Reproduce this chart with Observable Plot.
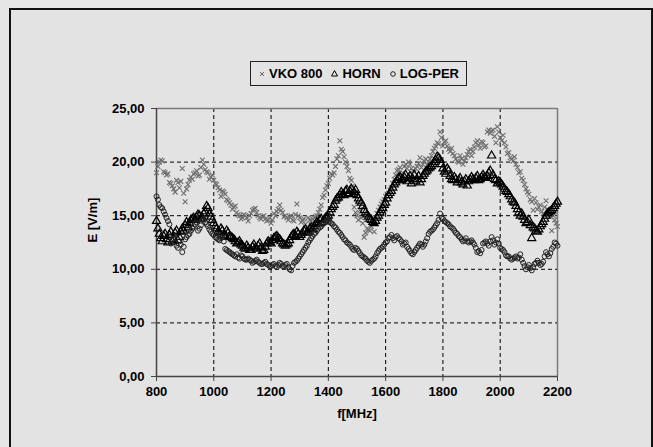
<!DOCTYPE html>
<html>
<head>
<meta charset="utf-8">
<script src="https://cdn.jsdelivr.net/npm/d3@7"></script>
<script src="https://cdn.jsdelivr.net/npm/@observablehq/plot@0.6"></script>
<style>
  html, body { margin: 0; padding: 0; background: #e6e6e6; }
  #wrap { position: relative; width: 653px; height: 447px; overflow: hidden; font-family: "Liberation Sans", Arial, sans-serif; }
  #frame { position: absolute; left: 9px; top: 8px; width: 640px; height: 460px; border: 2px solid #111; background: #e3e3e3; }
  #legend { position: absolute; left: 250px; top: 61px; width: 215px; height: 23px; border: 1px solid #222; background: #e3e3e3;
    font-size: 13px; font-weight: bold; color: #000; display: flex; align-items: center; justify-content: center; white-space: nowrap; }
  #legend span.item { display: inline-flex; align-items: center; margin: 0 4px; }
  #legend svg { margin-right: 3px; }
  #chart { position: absolute; left: 0; top: 0; }
</style>
</head>
<body>
<div id="wrap">
  <div id="frame"></div>
  <div id="chart"></div>
  <div id="legend"></div>
</div>
<script>
// Frequencies (MHz): readings at 800,810,...,2200 and at 805,815,...,2195
const freqsA = d3.range(800, 2201, 10);
const freqsB = d3.range(805, 2200, 10);

const seriesNames = ["VKO 800", "HORN", "LOG-PER"];

const vko800A = [
19.0,20.0,20.1,19.0,18.9,18.0,17.5,18.3,17.6,19.4,
16.3,17.9,18.6,18.9,19.2,18.8,20.2,19.3,19.0,18.6,
18.3,17.9,17.4,17.3,17.0,16.4,16.0,15.8,15.3,15.0,
14.8,15.0,14.5,15.2,15.6,15.3,14.8,14.9,14.7,14.6,
14.3,15.2,15.4,16.0,15.3,15.0,14.6,15.0,14.5,16.1,
14.8,14.6,14.2,14.8,14.5,14.8,15.0,15.6,16.7,17.4,
18.0,18.9,19.0,20.3,22.0,21.0,20.0,19.2,18.3,15.8,
15.0,15.5,14.3,13.4,13.7,14.0,13.5,15.2,15.8,16.3,
16.8,17.1,17.6,18.4,19.2,19.5,19.0,19.8,20.0,19.4,
19.1,19.6,20.4,19.8,20.3,20.0,20.6,21.3,21.8,22.8,
21.5,22.0,21.2,21.3,20.6,20.1,20.6,19.8,20.4,21.0,
20.6,21.4,22.0,21.3,21.8,21.5,23.0,22.9,22.4,23.3,
22.3,22.5,21.4,20.9,20.3,20.5,19.5,19.1,18.3,17.5,
17.0,16.3,16.6,15.6,16.0,15.2,16.4,15.3,13.6,14.6,
14.0];
const vko800B = [
19.6,20.2,19.1,18.8,18.1,17.8,17.2,18.1,18.2,17.1,
17.5,18.3,18.4,19.0,18.7,19.5,19.8,19.1,18.4,18.8,
18.0,17.6,16.8,17.2,16.5,16.2,15.6,15.9,15.1,14.7,
15.1,14.8,15.0,15.5,15.7,15.0,14.7,15.0,14.5,14.8,
14.6,15.0,15.6,15.5,14.9,14.8,14.9,14.6,15.1,15.0,
14.4,14.7,13.7,14.6,14.7,14.9,15.3,16.0,16.9,17.8,
18.5,18.8,19.6,20.6,21.2,20.5,19.6,18.5,17.8,15.3,
14.6,14.8,13.0,13.8,13.6,14.4,14.8,15.5,16.1,16.5,
17.0,17.4,18.0,18.8,19.3,18.9,19.6,19.4,19.8,19.2,
19.4,19.9,19.5,20.1,19.7,20.3,21.0,21.5,21.7,22.3,
21.9,21.5,21.0,20.8,20.3,20.0,20.3,20.1,20.7,21.2,
21.0,21.8,21.6,21.9,21.4,22.8,22.7,23.0,21.8,22.8,
22.0,21.8,20.8,20.4,20.1,19.8,19.0,18.5,17.9,17.2,
16.5,15.5,16.2,15.8,15.4,15.8,15.6,14.9,15.0,14.3];

const hornA = [
14.5,13.3,12.6,13.3,12.5,13.5,12.8,13.6,13.0,13.8,
14.1,13.9,14.6,14.8,14.9,15.0,14.8,15.4,15.7,14.9,
14.3,13.8,13.4,13.6,13.0,13.4,13.0,12.8,12.4,12.6,
12.2,11.9,12.0,11.8,12.3,11.9,12.4,11.7,12.1,12.6,
12.4,12.9,13.1,12.8,12.4,12.2,12.4,13.0,13.3,13.5,
13.0,13.4,13.7,13.5,13.9,14.0,14.4,14.6,14.4,14.8,
15.0,15.6,16.0,16.6,16.9,17.0,17.3,17.1,17.5,17.2,
16.9,16.4,15.9,15.3,14.9,14.6,14.3,14.8,15.3,15.7,
16.2,16.9,17.3,17.9,18.3,18.6,18.4,18.8,18.5,18.0,
18.8,18.4,18.1,18.7,19.1,19.4,19.6,20.0,20.5,20.2,
19.4,18.9,19.2,18.4,18.6,18.1,18.5,17.9,18.4,18.2,
18.6,18.3,18.7,18.4,18.8,18.5,19.0,20.6,18.4,18.0,
18.1,17.7,17.3,17.0,16.5,16.2,15.6,15.0,14.9,14.3,
14.6,12.9,13.8,13.5,14.0,14.4,15.0,15.3,15.5,15.9,
16.3];
const hornB = [
13.8,12.9,13.1,12.8,13.2,12.6,13.4,12.7,13.5,13.6,
14.4,14.3,14.7,14.6,15.1,14.7,15.2,15.9,15.2,14.6,
14.0,13.5,13.8,13.2,13.6,13.1,12.9,12.6,12.5,12.3,
12.0,12.2,11.8,12.1,12.0,12.2,12.0,11.8,12.4,12.5,
12.7,13.0,12.9,12.6,12.3,12.3,12.7,13.2,13.1,13.3,
13.2,13.6,13.4,13.8,13.7,14.2,14.3,14.7,14.6,14.9,
15.3,15.8,16.4,16.7,17.2,16.9,17.4,17.3,17.0,17.4,
16.6,16.2,15.5,15.1,14.7,14.4,14.5,15.0,15.5,16.0,
16.6,17.1,17.6,18.1,18.5,18.3,18.6,18.2,18.7,18.4,
18.2,18.7,18.4,18.9,19.2,19.5,19.8,20.2,20.4,19.8,
19.1,19.4,18.7,18.3,18.4,18.3,18.1,18.2,17.8,18.4,
18.4,18.5,18.3,18.6,18.6,18.7,19.2,18.8,18.3,18.2,
17.9,17.5,17.2,16.8,16.3,15.9,15.3,15.2,14.6,14.4,
14.1,13.9,13.6,13.7,14.2,14.7,15.2,15.4,15.7,16.1];

const logPerA = [
16.8,16.0,15.7,15.1,14.5,12.4,12.9,12.2,12.6,11.6,
12.8,13.2,13.6,14.0,14.4,13.8,14.6,14.4,14.0,13.5,
13.2,12.9,12.7,13.0,11.9,11.7,11.5,11.3,11.4,11.0,
11.2,10.9,11.0,10.8,10.7,10.9,10.6,10.5,10.7,10.4,
10.3,10.5,10.2,10.6,10.3,10.4,10.2,9.9,10.6,10.8,
11.2,11.6,12.0,12.5,12.9,13.3,13.6,13.9,14.2,14.4,
14.5,14.3,14.0,13.7,13.4,13.0,12.7,12.4,12.1,11.8,
11.9,11.5,11.2,11.0,10.7,10.8,11.0,11.5,11.9,12.1,
12.5,12.9,13.2,12.7,13.1,12.8,12.3,12.5,11.9,11.5,
11.6,12.0,12.4,12.1,12.6,13.3,13.6,13.9,14.3,15.2,
14.7,14.4,14.2,13.9,13.6,13.3,13.0,12.6,12.9,12.5,
12.7,12.3,11.6,11.5,12.4,12.6,12.2,13.0,12.3,12.8,
12.0,11.8,11.3,11.2,10.9,11.1,11.0,11.4,10.6,10.0,
10.4,9.9,10.5,10.8,10.4,10.7,11.6,11.2,11.9,12.5,
12.2];
const logPerB = [
16.5,15.8,15.4,14.8,14.2,12.7,12.5,12.0,12.3,12.1,
13.0,13.3,13.8,14.2,13.6,14.1,14.7,14.2,13.7,13.3,
13.0,12.8,12.9,12.6,11.8,11.6,11.4,11.2,11.1,11.3,
11.0,10.9,10.9,10.6,10.8,10.7,10.5,10.6,10.5,10.3,
10.4,10.3,10.4,10.5,10.3,10.5,10.0,10.3,10.7,11.0,
11.4,11.8,12.2,12.7,13.1,13.4,13.8,14.0,14.3,14.6,
14.4,14.2,13.9,13.5,13.2,12.8,12.5,12.3,11.9,12.0,
11.7,11.3,11.1,10.8,10.6,10.9,11.2,11.7,12.0,12.3,
12.6,13.0,12.9,13.0,12.9,12.6,12.4,12.1,11.7,11.4,
11.8,12.2,12.3,12.3,12.9,13.5,13.7,14.1,14.6,14.8,
14.5,14.3,14.0,13.8,13.4,13.1,12.8,12.7,12.6,12.6,
12.5,12.0,11.7,11.8,12.5,12.4,12.6,12.7,12.5,12.4,
11.9,11.6,11.2,11.0,11.0,11.2,11.1,10.9,10.3,10.2,
10.1,10.2,10.6,10.6,10.5,11.2,11.4,11.5,12.1,12.4];

const xTicks = [800, 1000, 1200, 1400, 1600, 1800, 2000, 2200];
const yTicks = [0, 5, 10, 15, 20, 25];
const xTitle = "f[MHz]";
const yTitle = "E [V/m]";

const rows = (a, b) => [
  ...freqsA.map((f, i) => ({f, v: a[i]})),
  ...freqsB.map((f, i) => ({f, v: b[i]}))
];
const fmtY = d => d3.format(".2f")(d).replace(".", ",");

const chart = Plot.plot({
  width: 653,
  height: 447,
  marginLeft: 156,
  marginRight: 96,
  marginTop: 108,
  marginBottom: 71,
  style: {fontFamily: "'Liberation Sans', Arial, sans-serif", fontSize: "13px", fontWeight: "bold", background: "transparent", color: "#000"},
  x: {domain: [800, 2200]},
  y: {domain: [0, 25]},
  marks: [
    Plot.gridX(xTicks.slice(1, -1), {stroke: "#000", strokeOpacity: 1, strokeDasharray: "4,3"}),
    Plot.gridY(yTicks.slice(1, -1), {stroke: "#000", strokeOpacity: 1, strokeDasharray: "4,3"}),
    Plot.ruleY([25], {stroke: "#7a7a7a", strokeWidth: 1.5}),
    Plot.ruleX([2200], {stroke: "#7a7a7a", strokeWidth: 1.5}),
    Plot.ruleX([800], {stroke: "#444", strokeWidth: 1.5}),
    Plot.ruleY([0], {stroke: "#444", strokeWidth: 1.5}),
    Plot.axisX(xTicks, {tickSize: 5, tickPadding: 5, label: null, tickFormat: d => String(d), stroke: "#444"}),
    Plot.axisY(yTicks, {tickSize: 5, tickPadding: 7, label: null, tickFormat: fmtY, stroke: "#444"}),
    Plot.dot(rows(vko800A, vko800B), {x: "f", y: "v", symbol: "times", r: 2.3, stroke: "#6e6e6e", strokeWidth: 1.1}),
    Plot.dot(rows(hornA, hornB), {x: "f", y: "v", symbol: "triangle", r: 3, stroke: "#000", fill: "none", strokeWidth: 1.2}),
    Plot.dot(rows(logPerA, logPerB), {x: "f", y: "v", symbol: "circle", r: 2.5, stroke: "#222", fill: "none", strokeWidth: 1}),
    Plot.text([xTitle], {frameAnchor: "bottom", dy: 41, text: d => d, fontSize: 13, fontWeight: "bold"}),
    Plot.text([yTitle], {frameAnchor: "left", dx: -64, rotate: -90, text: d => d, fontSize: 13, fontWeight: "bold"})
  ]
});
document.getElementById("chart").appendChild(chart);

// Legend
const symbolsSvg = {
  "VKO 800": '<svg width="8" height="8" viewBox="-4 -4 8 8"><path d="M-2,-2L2,2M2,-2L-2,2" stroke="#666" stroke-width="1"/></svg>',
  "HORN": '<svg width="9" height="9" viewBox="-4.5 -4.5 9 9"><path d="M0,-3L3,2.5L-3,2.5Z" stroke="#000" fill="none" stroke-width="1"/></svg>',
  "LOG-PER": '<svg width="8" height="8" viewBox="-4 -4 8 8"><circle r="2.3" stroke="#222" fill="none" stroke-width="1"/></svg>'
};
const legend = document.getElementById("legend");
legend.innerHTML = seriesNames.map(n => `<span class="item">${symbolsSvg[n]}${n}</span>`).join("");
</script>
</body>
</html>
